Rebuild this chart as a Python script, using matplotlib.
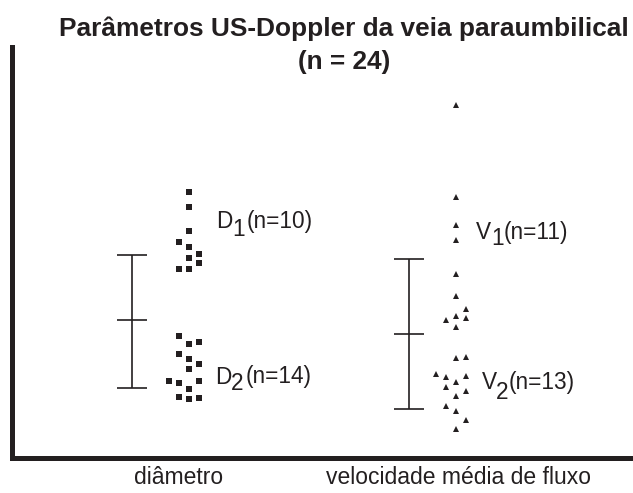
import matplotlib
matplotlib.use("Agg")
import matplotlib.pyplot as plt

plt.rcParams['font.family'] = ['Liberation Sans', 'DejaVu Sans']

INK = '#231f20'

# values are heights above the baseline (arbitrary units, no y scale shown)
d1_vals = [266.3, 251.3, 227.3, 216.3, 211.3, 199.7, 204, 195, 189, 189]
d1_cols = [0, 0, 0, -1, 0, 0, 1, 1, -1, 0]
d2_vals = [122.3, 114, 115.7, 103.7, 99, 94, 88.7, 77.3, 74.7, 77.3, 69, 60.7, 58.7, 59.7]
d2_cols = [-1, 0, 1, -1, 0, 1, 0, -2, -1, 1, 0, -1, 0, 1]

v1_vals = [353, 261.3, 233, 218, 184, 162.3, 149, 138, 142.3, 139.7, 131.3]
v1_cols = [0, 0, 0, 0, 0, 0, 1, -1, 0, 1, 0]
v2_vals = [99.7, 101.3, 84, 80.7, 76.3, 82.3, 71.3, 67.3, 62.3, 52.3, 47.3, 38, 29]
v2_cols = [0, 1, -2, -1, 0, 1, -1, 1, 0, -1, 0, 1, 0]

# mean and range bars (low, mean, high)
d_bar = (69.7, 137.7, 203)
v_bar = (48.7, 124, 198.7)

categories = ['diâmetro', 'velocidade média de fluxo']
title1 = 'Parâmetros US-Doppler da veia paraumbilical'
title2 = '(n = 24)'

fig = plt.figure(figsize=(6.33, 4.93), dpi=100)
ax = fig.add_axes([12/633, 35/493, 1 - 12/633, 411/493])
ax.set_xlim(12, 633)
ax.set_ylim(0, 411)

d_x, v_x = 189.3, 456      # swarm centres
d_bx, v_bx = 132.3, 409    # bar positions
step = 10

def swarm(xc, vals, cols, marker, ms):
    xs = [xc + c*step for c in cols]
    ax.plot(xs, vals, linestyle='none', marker=marker, ms=ms,
            color=INK, mec=INK, mew=0)

swarm(d_x, d1_vals, d1_cols, 's', 4.8)
swarm(d_x, d2_vals, d2_cols, 's', 4.8)
swarm(v_x, v1_vals, v1_cols, '^', 4.6)
swarm(v_x, v2_vals, v2_cols, '^', 4.6)

for bx, (lo, mid, hi) in [(d_bx, d_bar), (v_bx, v_bar)]:
    ax.errorbar([bx], [mid], yerr=[[mid - lo], [hi - mid]], fmt='_',
                ms=21.6, mew=1.2, color=INK, ecolor=INK,
                elinewidth=1.2, capsize=10.8, capthick=1.2)

def sublabel(x, y, main, sub, rest, xs, xr, drop):
    kw = dict(fontsize=16.3, color=INK, ha='left', va='baseline')
    ax.text(x, y, main, **kw)
    ax.text(xs, y - drop, sub, **kw)
    ax.text(xr, y, rest, **kw)

sublabel(216, 458-228.3, 'D', '1', '(n=10)', 232.5, 246.5, 8)
sublabel(215.5, 458-383.5, 'D', '2', '(n=14)', 231, 245.5, 7)
sublabel(476, 458-239, 'V', '1', '(n=11)', 491.5, 504, 6)
sublabel(481.5, 458-389.3, 'V', '2', '(n=13)', 495.5, 509, 10)

ax.set_xticks([179, 459])
ax.set_xticklabels(categories, fontsize=16.5, color=INK)
ax.tick_params(axis='x', length=0, pad=6)
ax.set_yticks([])

for s in ['top', 'right']:
    ax.spines[s].set_visible(False)
for s in ['left', 'bottom']:
    ax.spines[s].set_linewidth(3.6)
    ax.spines[s].set_color(INK)
    ax.spines[s].set_capstyle('projecting')

fig.text(344/633, 1 - 36/493, title1, ha='center', va='baseline',
         fontsize=18.9, fontweight='bold', color=INK)
fig.text(344/633, 1 - 69/493, title2, ha='center', va='baseline',
         fontsize=18.9, fontweight='bold', color=INK)

fig.savefig('out.png', dpi=100)
